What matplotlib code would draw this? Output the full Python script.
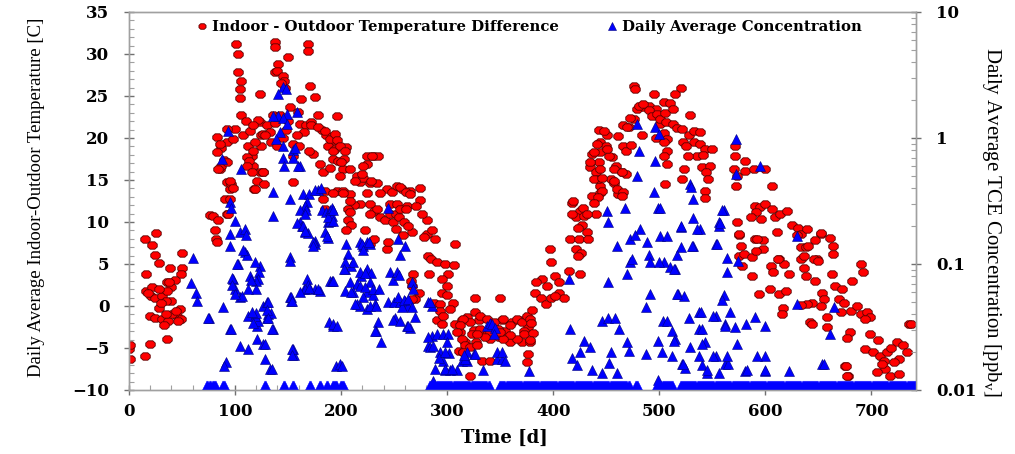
import matplotlib
matplotlib.use("Agg")
import matplotlib.pyplot as plt
from matplotlib.ticker import MultipleLocator, LogLocator, NullFormatter
from matplotlib.path import Path
import numpy as np

# ---------------- data ----------------
# indoor - outdoor temperature difference (day, deg C)
diff_day = [
    0, 1, 1, 15, 20, 35.5,
    15, 26, 22, 24.5, 28.5, 39, 50.5, 50.5, 49.5, 16, 35.5, 40, 16.5, 21, 25, 31, 36, 40, 28, 34.5,
    48, 45, 49.5, 20, 25, 31, 37, 33, 41, 22, 28.5, 43, 18, 44, 35, 30, 38, 46,
    76, 79, 81, 82.5, 83, 92, 90.5, 95, 92, 96, 86, 82.7, 87, 90, 92, 87, 100, 101, 103, 103, 106,
    104.5, 104.5, 106, 108, 112, 115.7, 117, 118, 123.6, 123.6, 124.5, 124.5, 124,
    82.7, 92, 86, 98, 117, 111, 113, 111, 115.7, 126.7, 84, 92, 95, 98, 95, 120.5, 119, 93.7, 84,
    122, 126, 119, 114, 110, 117,
    137.7, 138, 169, 169, 150, 140.9, 138, 140, 145, 146, 147, 143, 171, 175.5, 152, 136, 142, 159.5,
    178, 196, 130, 133, 128, 138, 161, 167, 172, 165, 158, 155, 182, 186, 191, 188, 194, 205, 155,
    174, 180, 192, 197, 202, 199, 230.5, 235, 224, 155, 126.5, 127, 196, 202, 208.5, 215, 218, 221,
    227, 234, 243, 248, 218, 212, 207, 207, 209, 205, 227, 231, 234, 237, 241, 246, 249, 252, 252,
    222.6, 227, 231, 243, 244, 183, 185,
    172, 178, 185, 190, 192.7, 183, 190, 185, 192,
    194, 196, 199, 204, 202.6, 208.5, 200, 224, 229, 221, 220, 228, 213, 202, 224, 236.8, 208,
    252.5, 257, 265, 274.5, 246, 262, 274.5, 227, 208, 281, 148, 145, 150, 162, 134, 140, 160, 170,
    255.7, 261, 265, 252.5, 256, 261, 271, 276, 255, 259, 266.7, 263, 258, 281, 285.5, 289, 278,
    307.5, 282, 285, 290, 298, 306, 301, 268, 266, 283, 295, 300, 273, 270, 295, 300, 305.7, 288,
    293, 326.4, 350, 290, 295, 307.5, 314, 318.6, 326.4, 330, 325, 312, 323, 336, 345, 340.6, 349,
    317, 327, 361, 369, 376, 372, 351.6, 355, 359.4, 371, 310.7, 315, 332.7, 340, 321.7,
    331, 337.5, 343.7, 348.4, 353, 359.4, 365.8, 370.5, 375, 378, 372, 378, 365.8, 359.4, 353,
    350, 340.6, 335.8, 331, 328, 321.7, 315.4, 312, 309, 313.9, 317, 321.7, 328, 315.4, 375, 376,
    293.4, 296.5, 302.8, 267, 267,
    397, 398, 389, 384, 394, 402, 405, 405, 410, 414.5, 425.5, 383, 388, 393, 398, 402, 380, 379,
    381, 378,
    417.6, 425.5, 421, 429, 427, 423, 432, 416, 424, 433, 421, 426, 423,
    436.5, 444, 440, 444, 435, 440, 443, 442, 436.5, 444,
    454, 457, 461.5, 455, 459, 464.8, 469, 444, 450.6, 461, 450, 453, 443.5, 466, 469, 473, 471,
    466, 475.7, 479, 486, 490, 497, 475.7, 477, 494.6,
    447.5, 441, 451, 438, 435, 444, 457, 465, 438, 446, 457, 460, 466, 446, 442, 438, 464.6, 419,
    428, 418, 432, 480.5, 485, 490, 493, 498, 469.5, 472, 483.6, 500.9, 504, 501, 507, 497, 507,
    504, 505,
    520, 514.5, 510, 513, 506, 513, 517, 521, 529, 528, 533, 538, 533, 538, 535.5, 543, 549.6, 541,
    522, 525, 527, 504, 504, 523, 521, 540, 548, 544, 546, 543, 543, 505, 507,
    571.7, 571.7, 570, 573, 572, 581, 581, 589, 600, 606, 590.6, 595, 600, 606, 591.5, 586, 596,
    609, 614, 620, 625, 631, 634, 573, 574.8, 590, 598, 598, 577, 575, 580, 587, 591, 578, 612.5,
    618, 605.5, 607, 587, 594, 604, 613, 619, 617, 616, 634, 634,
    575, 592, 611, 630, 652, 638, 649, 612, 622, 642,
    652, 661, 639, 647, 640, 664, 664, 636, 645.6, 650, 690, 692, 636, 638, 647, 663, 666, 672,
    682, 653.5, 655, 652, 644, 639, 634, 669, 674, 671, 681, 686, 690, 696, 699, 694, 658, 644,
    658, 680, 677, 699, 706, 735, 737, 694, 701, 708.5, 715, 724, 730, 733.7, 726, 712, 721, 713,
    705, 717, 726, 675, 678, 710, 718, 676, 677,
]
diff_temp = [
    -5.1, -4.6, -6.3, -5.9, -4.5, -3.9,
    8.0, 8.7, 7.3, 6.1, 5.1, 4.5, 6.3, 4.5, 3.8, 3.8, 2.8, 2.3, 1.8, 1.2, 0.9, 1.2, 1.8, 0.6, -0.2, 0.6,
    -0.4, -1.2, -1.6, -1.2, -1.4, -1.6, -1.8, -2.3, -0.9, 2.3, 2.0, 3.1, 1.5, -0.6, -1.0, 0.3, 2.8, -1.8,
    10.8, 10.7, 9.0, 8.0, 7.6, 11.0, 12.7, 13.9, 14.8, 14.5, 16.3, 20.1, 18.8, 17.4, 19.5, 16.7, 21.1, 31.2, 30.0, 27.9, 26.8,
    25.8, 24.8, 22.7, 20.3, 19.1, 17.9, 16.7, 13.9, 25.2, 21.9, 20.3, 19.1, 15.9,
    18.3, 21.1, 19.3, 19.9, 18.5, 17.7, 17.3, 16.7, 15.9, 15.9, 16.3, 17.1, 14.9, 14.1, 12.7, 14.9, 13.9, 11.0, 10.2,
    22.1, 20.5, 19.5, 20.8, 22.0, 21.5,
    31.4, 30.8, 31.2, 30.4, 29.6, 28.8, 27.8, 28.0, 27.4, 26.8, 26.0, 26.5, 26.2, 24.9, 23.7, 22.7, 22.7, 23.1,
    22.7, 22.6, 21.5, 20.7, 20.3, 21.8, 21.7, 21.5, 21.9, 20.7, 20.3, 19.3, 20.9, 20.4, 19.7, 19.1, 18.7, 18.9, 17.9,
    18.1, 16.9, 17.5, 17.3, 16.3, 15.5, 17.9, 17.9, 16.9, 14.8, 16.0, 14.5, 13.7, 13.7, 13.3, 15.5, 14.8, 15.2,
    14.7, 14.6, 13.9, 13.6, 12.1, 12.0, 11.5, 10.2, 9.6, 9.0, 12.1, 11.3, 11.5, 10.6, 10.2, 11.0, 10.0, 10.9, 9.2,
    9.0, 7.4, 8.0, 6.8, 7.6, 12.7, 11.5,
    21.6, 21.3, 20.8, 19.9, 18.5, 15.9, 16.4, 13.7, 13.4,
    20.5, 19.8, 19.1, 18.4, 17.5, 16.3, 17.1, 17.9, 17.9, 16.7, 15.7, 14.9, 14.9, 13.5, 13.5, 13.5, 12.5,
    14.3, 13.9, 13.7, 14.1, 12.1, 11.9, 12.6, 11.0, 11.2, 10.2, 21.0, 20.0, 22.0, 24.6, 19.5, 19.0, 19.0, 18.5,
    14.2, 13.6, 13.3, 12.1, 11.5, 11.5, 11.9, 11.0, 10.6, 10.0, 8.8, 9.5, 8.5, 8.6, 9.0, 8.0, 8.2,
    7.4, 6.0, 5.6, 5.2, 5.0, 4.9, 3.8, 3.8, 3.0, 3.8, 3.2, 2.4, 1.6, 0.8, 1.6, 1.3, 0.4, 0.4,
    0.2, 1.0, 1.0, -1.7, -2.1, -2.1, -1.7, -1.3, -0.75, -1.7, -2.8, -3.1, -3.3, -3.1, -2.6, -3.9, -3.7,
    -4.3, -4.3, -1.9, -1.7, -2.5, -3.0, -1.7, -3.0, -4.3, -4.3, -5.3, -5.5, -6.5, -6.5, -8.3,
    -1.2, -1.5, -1.9, -2.7, -1.5, -2.3, -1.5, -1.9, -1.2, -1.5, -3.3, -4.3, -3.9, -3.5, -3.9,
    -3.1, -3.1, -3.7, -2.7, -3.3, -1.9, -1.5, -2.3, -3.1, -3.9, -4.7, -4.9, -4.7, -5.5, -6.7, -5.7,
    -0.6, -1.2, -0.4, 2.4, 0.8,
    6.8, 5.2, 3.2, 2.9, 2.4, 3.6, 2.8, 1.6, 0.9, 4.2, 3.8, 1.6, 0.9, 0.2, 1.0, 1.2, -0.5, -2.0,
    -3.2, -4.0,
    12.3, 11.3, 10.6, 10.7, 9.6, 9.3, 8.8, 8.0, 8.0, 8.0, 6.8, 6.3, 5.9,
    13.1, 13.5, 11.0, 14.3, 16.5, 16.0, 17.1, 15.1, 18.1, 18.3,
    15.1, 14.6, 13.3, 17.7, 16.7, 15.9, 15.7, 19.5, 20.3, 20.2, 19.0, 17.8, 20.9, 19.1, 18.4, 19.2, 21.3,
    21.5, 22.3, 23.5, 23.7, 23.8, 23.5, 26.2, 25.8, 25.2,
    20.8, 19.3, 18.7, 18.3, 17.1, 16.3, 16.3, 15.9, 15.1, 15.2, 14.9, 13.9, 13.6, 13.7, 13.0, 12.3, 13.1, 12.5,
    11.7, 11.0, 11.0, 23.8, 24.0, 23.3, 22.6, 22.8, 21.3, 22.4, 20.3, 21.7, 20.6, 22.3, 19.9, 20.0, 18.5,
    24.3, 23.0,
    26.0, 25.2, 24.2, 23.5, 21.9, 21.7, 21.2, 21.1, 22.7, 20.3, 20.8, 20.7, 19.5, 19.3, 17.9, 18.7, 18.7, 18.0,
    19.5, 19.0, 17.9, 19.5, 17.9, 16.3, 15.1, 16.5, 16.7, 16.0, 15.1, 13.7, 12.9, 14.5, 16.9,
    19.1, 17.9, 16.3, 15.5, 14.3, 17.3, 16.1, 16.3, 16.3, 14.3, 11.9, 11.8, 12.1, 11.6, 11.2, 10.6, 10.4,
    10.6, 11.0, 11.3, 9.6, 9.3, 8.6, 10.0, 8.4, 8.0, 7.8, 6.8, 7.2, 6.0, 6.2, 5.8, 6.6, 4.8, 5.6,
    5.0, 4.8, 4.0, 3.6, 1.4, 2.0, 1.4, 1.8, -0.2, -0.9, 7.0, 5.6,
    8.6, 8.0, 8.8, 8.4, 8.6, 7.0, 5.6, 5.6, 3.8, -1.9,
    8.7, 8.1, 9.2, 7.8, 7.2, 7.2, 6.2, 6.0, 5.6, 5.4, 5.0, 4.0, 4.5, 3.6, 3.0, 3.8, 2.4, 2.0,
    3.0, 1.6, 0.8, 0.0, 0.4, 0.2, 0.1, 0.8, 0.3, -0.75, -0.6, 0.0, -1.0, -0.75, -1.3, -1.5, -1.3, -2.1,
    -2.5, -3.1, -3.8, -3.3, -4.0, -2.1, -2.1, -5.1, -5.5, -5.9, -5.5, -4.3, -4.7, -5.5, -6.3, -6.5, -6.7, -7.5,
    -7.9, -8.3, -8.1, -7.1, -8.3, -6.9, -5.0, -7.1, -8.3,
]

# daily average TCE concentration above the detection limit (day, ppbv)
conc_day = [
    60.7, 59, 63, 64, 75.8, 75, 89, 95.3, 91.5, 90,
    95, 95, 100, 104.7, 109, 110, 98.4, 99.8, 104.7, 107, 103, 109.4, 111, 112.6, 104.7, 112.6, 121,
    121, 122, 123.6, 123, 122, 119.5, 120, 118.7, 119.5, 126.7, 126.7, 128, 133, 131.4, 134, 130, 130,
    136, 151.9, 152, 153, 155, 156, 161, 163, 166, 169, 175.5, 175, 167.6, 169, 165, 175, 180, 189.6,
    189, 192.7, 195.6, 184.9, 188, 188,
    93.7, 87.4, 95.3, 96, 106, 114, 115, 97, 97, 100, 112, 115.7, 117, 96, 101.6, 107.8, 119,
    145.6, 148, 141, 148.8, 141, 145, 136, 158, 148.8, 142.5, 139, 145.6, 155, 156.6, 145.6, 146, 161,
    159.7, 155, 136, 136, 152, 164.4, 170, 178.6, 175.5, 181, 167.6, 166, 161, 167, 158, 164, 166, 166,
    173.9, 174, 186.5, 181.8, 186, 189.6, 191, 190, 188, 192.7, 191, 192.7,
    205, 207, 204, 209, 211.6, 218, 221, 224, 227, 224, 228, 219, 208.5, 215, 211, 224, 230, 221, 227,
    246, 249, 244.6, 250, 191, 178.6, 166, 161, 170, 152, 153, 154, 215, 218, 232, 224, 235, 233, 238,
    251, 192.7, 196, 131.4, 130, 131.4, 134.5, 128, 153.5, 154, 134.6, 199, 244.6,
    219.5, 226, 221, 204, 218, 223, 203, 192.7, 218, 223, 230.5, 236, 204, 209, 213, 227, 233,
    255.6, 260, 263.5, 257, 249.4, 255.6, 262, 265, 232, 200.7,
    254, 260, 256, 252.5, 255, 266.7, 268, 254, 259, 263, 266.7, 270, 263.5, 282.4, 286, 284, 285.5,
    282.4, 284, 290, 296, 300.6, 293.4, 301.5, 296.5, 298, 303, 309, 314, 318.5, 287, 318.6, 325,
    337.5, 340, 342, 345, 344, 347, 352, 334, 282.4, 287, 292, 298, 300, 317, 316, 289, 298, 305,
    326.4, 347, 352, 355, 377,
    414.5, 450.6, 452, 468, 460, 472.6, 482, 477, 488.4, 501, 490, 491, 504, 472.6, 474, 469.5, 452,
    491.5, 487, 446, 452, 458.5, 461.7, 416, 503, 428.6, 435, 417.6, 425, 454, 453, 471, 470, 487,
    422, 436.5, 446, 502.5, 499, 460, 499, 479, 496, 499.7, 480.5, 496, 479, 494.6, 499, 501,
    529, 530, 532, 532, 520, 520, 538, 532, 520, 517, 553, 561, 559, 556, 556, 572, 572, 595, 564,
    574, 564, 515, 510, 518, 523, 561, 559, 537, 539, 553, 567, 590.6, 600, 527.7, 562, 571.7, 582,
    512, 537, 540, 543, 540, 515, 529, 553, 551, 573, 600, 512, 521, 524, 540, 562, 565, 581, 600,
    622, 545, 556, 630, 664.4, 661, 653.5, 630, 655,
    507, 500, 513.5, 516.6, 507, 513.5, 537, 522, 545, 531, 535.5, 554, 557.5, 551, 562, 564, 592,
    583, 600,
]
conc_ppb = [
    0.111, 0.0703, 0.0589, 0.0512, 0.037, 0.0375, 0.0453, 0.0305, 0.0166, 0.0155,
    0.173, 0.14, 0.22, 0.178, 0.19, 0.17, 0.076, 0.0634, 0.0545, 0.056, 0.1, 0.124, 0.118, 0.0389, 0.0225, 0.0211, 0.0254,
    0.0324, 0.035, 0.097, 0.087, 0.076, 0.073, 0.063, 0.039, 0.041, 0.0467, 0.023, 0.0176, 0.0147, 0.04, 0.041, 0.0497, 0.0375,
    0.0305, 0.113, 0.0545, 0.051, 0.0211, 0.019, 0.214, 0.2, 0.178, 0.175, 0.153, 0.145, 0.076, 0.0675, 0.0634, 0.0634, 0.0613, 0.0736,
    0.0344, 0.0324, 0.0156, 0.178, 0.16, 0.214,
    1.14, 0.68, 0.31, 0.28, 0.567, 0.081, 0.075, 0.078, 0.0675, 0.0578, 0.0634, 0.0414, 0.0338, 0.0305, 0.1, 0.128, 0.103,
    2.52, 2.45, 2.23, 1.55, 1.5, 1.45, 1.5, 1.6, 1.28, 1.11, 0.98, 0.87, 0.81, 0.84, 0.70, 0.6, 0.6,
    0.6, 0.70, 0.37, 0.24, 0.33, 0.36, 0.36, 0.39, 0.39, 0.4, 0.31, 0.29, 0.27, 0.27, 0.21, 0.2, 0.184, 0.25,
    0.149, 0.14, 0.168, 0.27, 0.26, 0.22, 0.24, 0.27, 0.234, 0.22, 0.28, 0.27,
    0.144, 0.12, 0.091, 0.097, 0.103, 0.149, 0.14, 0.149, 0.143, 0.091, 0.085, 0.081, 0.0715, 0.07, 0.0596, 0.0596, 0.057, 0.055, 0.0715,
    0.086, 0.075, 0.0497, 0.05, 0.0736, 0.0634, 0.0634, 0.0596, 0.065, 0.106, 0.0545, 0.051, 0.048, 0.046, 0.048, 0.044, 0.0344, 0.0295, 0.0239,
    0.0375, 0.0334, 0.032, 0.05, 0.043, 0.0375, 0.0305, 0.023, 0.0211, 0.019, 0.0147, 0.0161, 0.28,
    0.144, 0.149, 0.128, 0.103, 0.086, 0.085, 0.091, 0.0736, 0.0665, 0.066, 0.0634, 0.063, 0.0613, 0.06, 0.048, 0.0467, 0.046,
    0.0497, 0.051, 0.0467, 0.0453, 0.0362, 0.035, 0.0324, 0.031, 0.0295, 0.0156,
    0.158, 0.14, 0.117, 0.086, 0.082, 0.0715, 0.0634, 0.0545, 0.052, 0.053, 0.0453, 0.0378, 0.0324, 0.0497, 0.046, 0.0497, 0.027,
    0.0225, 0.022, 0.0278, 0.0278, 0.0278, 0.0202, 0.0197, 0.0171, 0.0144, 0.0144, 0.0144, 0.0169, 0.0169, 0.0118, 0.0202, 0.0193,
    0.0324, 0.034, 0.0334, 0.031, 0.0278, 0.0176, 0.0176, 0.0144, 0.0262, 0.0225, 0.0181, 0.0202, 0.0239, 0.0176, 0.019, 0.0147, 0.0147, 0.0147,
    0.0193, 0.0202, 0.0202, 0.0169, 0.0141,
    0.076, 0.265, 0.216, 0.28, 0.14, 0.158, 0.19, 0.17, 0.149, 0.168, 0.117, 0.103, 0.103, 0.103, 0.11, 0.0831, 0.0715,
    0.0578, 0.0453, 0.0354, 0.037, 0.0375, 0.0305, 0.0305, 0.0354, 0.0245, 0.0218, 0.0181, 0.02, 0.0202, 0.0165, 0.0203, 0.024, 0.0193,
    0.0157, 0.0144, 0.0136, 0.0202, 0.0245, 0.0136, 0.012, 1.29, 1.22, 1.07, 0.79, 0.66, 0.50, 0.37, 0.28, 0.28,
    0.43, 0.41, 0.33, 0.23, 0.195, 0.2, 0.19, 0.14, 0.136, 0.117, 0.144, 0.27, 0.27, 0.216, 0.2, 0.98, 0.52, 0.6, 0.112,
    0.105, 0.086, 0.091, 0.095, 0.0578, 0.056, 0.0563, 0.052, 0.0414, 0.0414, 0.0389, 0.0414, 0.0377, 0.0324, 0.0375, 0.0334, 0.0318, 0.0334,
    0.0295, 0.0305, 0.0305, 0.0239, 0.023, 0.0254, 0.0218, 0.0187, 0.0187, 0.023, 0.0187, 0.0187, 0.0161, 0.015, 0.0157, 0.0162, 0.016, 0.0141, 0.0141,
    0.0141, 0.0136, 0.0136, 0.168, 0.0453, 0.0278, 0.0162, 0.0484, 0.0162,
    0.168, 0.103, 0.091, 0.0578, 0.0354, 0.0245, 0.0187, 0.0162, 0.0144, 0.14, 0.19, 0.144, 0.21, 0.0389, 0.0324, 0.0187, 0.0187,
    0.0144, 0.0144,
]

# runs of consecutive days at the detection limit (first day, last day)
floor_runs = [(74, 77), (79, 82), (89, 91), (128, 129), (146, 147), (155, 156), (171, 172),
              (180, 181), (187, 188), (192, 196), (200, 203), (284, 340), (350, 472),
              (478, 480), (498, 513), (520, 743)]
floor_level = 0.0108

floor_day = [d for a, b in floor_runs for d in range(a, b + 1)]
floor_ppb = [floor_level] * len(floor_day)

# ---------------- figure ----------------
plt.rcParams['font.family'] = ['Liberation Serif', 'DejaVu Serif']
plt.rcParams['mathtext.fontset'] = 'custom'
plt.rcParams['mathtext.rm'] = 'Liberation Serif'

# wide octagon used for the temperature markers
octagon = Path([(-1.0, -0.32), (-1.0, 0.32), (-0.5, 0.78), (0.5, 0.78), (1.0, 0.32),
                (1.0, -0.32), (0.5, -0.78), (-0.5, -0.78), (-1.0, -0.32)],
               [Path.MOVETO] + [Path.LINETO] * 7 + [Path.CLOSEPOLY])

wide_font = {'family': 'DejaVu Serif', 'weight': 'bold'}

fig = plt.figure(figsize=(10.15, 4.54), dpi=100)
ax = fig.add_axes([0.127, 0.141, 0.7755, 0.8326])
ax2 = ax.twinx()

red_pts, = ax.plot(diff_day, diff_temp, linestyle='none', marker=octagon, markersize=6.8,
                   markerfacecolor='#ff0000', markeredgecolor='#5a0000', markeredgewidth=0.6,
                   label='Indoor - Outdoor Temperature Difference')
blue_pts, = ax2.plot(conc_day, conc_ppb, linestyle='none', marker='^', markersize=6.8,
                     markerfacecolor='#0000ff', markeredgecolor='#00007a', markeredgewidth=0.4,
                     label='Daily Average Concentration')
ax2.plot(floor_day, floor_ppb, linestyle='none', marker='^', markersize=6.8,
         markerfacecolor='#0000ff', markeredgecolor='#0000ff', markeredgewidth=0.3)

ax.set_xlim(0, 742)
ax.set_ylim(-10, 35)
ax2.set_yscale('log')
ax2.set_ylim(0.01, 10)

frame_col = '#a0a0a0'
for a in (ax, ax2):
    for s in a.spines.values():
        s.set_color(frame_col)
        s.set_linewidth(1.0)

ax.xaxis.set_major_locator(MultipleLocator(100))
ax.xaxis.set_minor_locator(MultipleLocator(20))
ax.yaxis.set_major_locator(MultipleLocator(5))
ax.yaxis.set_minor_locator(MultipleLocator(1))
ax.tick_params(axis='both', which='major', direction='inout', length=7, width=1.0,
               color='#707070', labelsize=12)
ax.tick_params(axis='y', which='major', pad=10.5)
ax.tick_params(axis='x', which='major', pad=6)
ax.tick_params(axis='both', which='minor', direction='in', length=3.5, width=0.8, color=frame_col)

ax2.yaxis.set_minor_locator(LogLocator(base=10, subs=np.arange(2, 10), numticks=10))
ax2.yaxis.set_minor_formatter(NullFormatter())
ax2.set_yticks([0.01, 0.1, 1, 10])
ax2.set_yticklabels(['0.01', '0.1', '1', '10'])
ax2.tick_params(axis='y', which='major', direction='inout', length=7, width=1.0,
                color='#707070', labelsize=12, pad=11)
ax2.tick_params(axis='y', which='minor', direction='in', length=3.5, width=0.8, color=frame_col)

for lab in ax.get_xticklabels() + ax.get_yticklabels() + ax2.get_yticklabels():
    lab.set_fontfamily('DejaVu Serif')
    lab.set_fontweight('bold')

ax.set_xlabel('Time [d]', fontsize=13, va='center', **wide_font)
ax.xaxis.set_label_coords(0.477, -0.127)
ax.set_ylabel('Daily Average Indoor-Outdoor Temperature [C]', fontsize=13.5, va='center')
ax.yaxis.set_label_coords(-0.118, 0.511)
ax2.set_ylabel('Daily Average TCE Concentration [ppb$_\\mathrm{v}$]', fontsize=15,
               rotation=270, va='center')
ax2.yaxis.set_label_coords(1.096, 0.444)

# one legend entry per series, placed side by side along the top of the plot
legend_style = dict(loc='upper left', frameon=False, markerscale=0.75, handlelength=0.6,
                    handletextpad=0.4, borderpad=0.4,
                    prop={'family': 'DejaVu Serif', 'weight': 'bold', 'size': 10.75})
leg_red = ax2.legend(handles=[red_pts], bbox_to_anchor=(0.0699, 1.014), **legend_style)
ax2.add_artist(leg_red)
ax2.legend(handles=[blue_pts], bbox_to_anchor=(0.591, 1.014), **legend_style)

fig.savefig('out.png', dpi=100)
